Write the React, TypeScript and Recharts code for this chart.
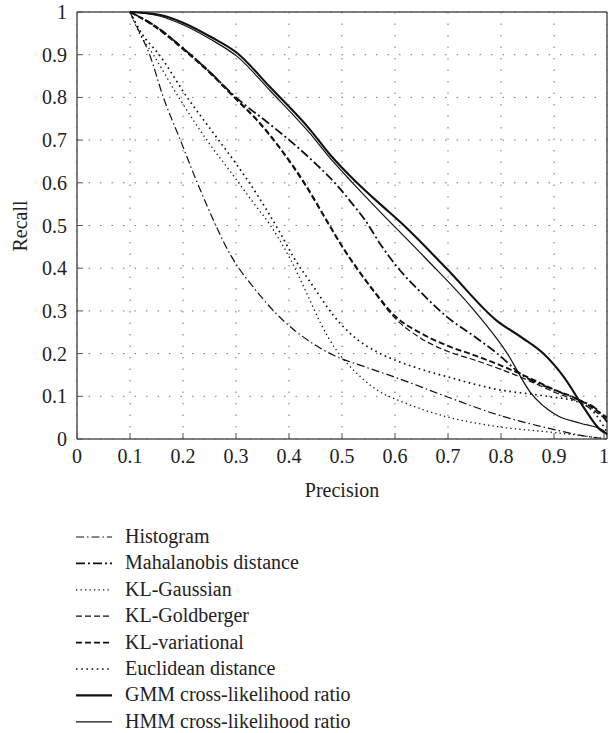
import React from "react";
import { LineChart, Line, XAxis, YAxis, CartesianGrid, ReferenceLine } from "recharts";

// Precision (x) / Recall (y) pairs
const histogram: number[][] = [
  [0.1, 1], [0.115, 0.96], [0.137, 0.9], [0.163, 0.8], [0.195, 0.7], [0.227, 0.6], [0.262, 0.5],
  [0.28, 0.453], [0.3, 0.41], [0.33, 0.36], [0.371, 0.3], [0.409, 0.256], [0.447, 0.222], [0.484, 0.196],
  [0.541, 0.17], [0.597, 0.146], [0.698, 0.099], [0.793, 0.057], [0.887, 0.026], [0.968, 0.005], [1, 0],
];
const mahalanobis: number[][] = [
  [0.1, 1], [0.15, 0.965], [0.2, 0.915], [0.25, 0.86], [0.3, 0.8], [0.365, 0.736], [0.41, 0.69],
  [0.45, 0.645], [0.49, 0.595], [0.52, 0.55], [0.545, 0.51], [0.573, 0.455], [0.604, 0.403],
  [0.65, 0.342], [0.698, 0.286], [0.75, 0.24], [0.793, 0.2], [0.84, 0.15], [0.9, 0.115],
  [0.95, 0.09], [0.98, 0.07], [1, 0.04],
];
const klGaussian: number[][] = [
  [0.1, 1], [0.118, 0.95], [0.144, 0.9], [0.192, 0.8], [0.245, 0.7], [0.298, 0.612], [0.33, 0.558],
  [0.365, 0.5], [0.403, 0.42], [0.434, 0.34], [0.46, 0.27], [0.49, 0.207],
  [0.509, 0.178], [0.54, 0.14], [0.572, 0.11], [0.604, 0.092], [0.65, 0.07], [0.698, 0.052],
  [0.793, 0.029], [0.893, 0.016], [0.95, 0.008], [1, 0],
];
const klGoldberger: number[][] = [
  [0.1, 1], [0.15, 0.962], [0.2, 0.912], [0.25, 0.857], [0.3, 0.795], [0.34, 0.745], [0.384, 0.678],
  [0.43, 0.595], [0.472, 0.508], [0.5, 0.45], [0.53, 0.395], [0.56, 0.345], [0.6, 0.283],
  [0.65, 0.235], [0.7, 0.205], [0.75, 0.185], [0.8, 0.163], [0.85, 0.138], [0.9, 0.11],
  [0.95, 0.085], [1, 0.045],
];
const klVariational: number[][] = [
  [0.1, 1], [0.15, 0.965], [0.2, 0.915], [0.25, 0.86], [0.3, 0.797], [0.34, 0.747], [0.384, 0.68],
  [0.43, 0.598], [0.472, 0.51], [0.5, 0.452], [0.53, 0.397], [0.56, 0.347], [0.6, 0.288],
  [0.65, 0.247], [0.7, 0.218], [0.75, 0.196], [0.8, 0.172], [0.85, 0.145], [0.9, 0.116],
  [0.95, 0.09], [1, 0.05],
];
const euclidean: number[][] = [
  [0.1, 1], [0.122, 0.95], [0.155, 0.9], [0.208, 0.8], [0.26, 0.712], [0.3, 0.645], [0.34, 0.572],
  [0.38, 0.49], [0.409, 0.425], [0.447, 0.355], [0.484, 0.289], [0.522, 0.24], [0.572, 0.2],
  [0.604, 0.183], [0.65, 0.163], [0.698, 0.146], [0.793, 0.116], [0.887, 0.1], [0.95, 0.085],
  [0.98, 0.055], [1, 0.015],
];
const gmm: number[][] = [
  [0.1, 1], [0.157, 0.993], [0.2, 0.975], [0.252, 0.942], [0.302, 0.904], [0.365, 0.823],
  [0.44, 0.724], [0.478, 0.665], [0.52, 0.61], [0.572, 0.55], [0.61, 0.508], [0.699, 0.397],
  [0.793, 0.276], [0.84, 0.237], [0.88, 0.2], [0.918, 0.146], [0.955, 0.076], [0.987, 0.022], [1, 0.012],
];
const hmm: number[][] = [
  [0.1, 1], [0.157, 0.99], [0.2, 0.97], [0.252, 0.936], [0.302, 0.896], [0.365, 0.815],
  [0.44, 0.715], [0.478, 0.657], [0.52, 0.6], [0.572, 0.532], [0.654, 0.428], [0.748, 0.303],
  [0.812, 0.2], [0.855, 0.11], [0.906, 0.055], [0.95, 0.037], [0.993, 0.02], [1, 0.01],
];

const axisTicks = [0, 0.1, 0.2, 0.3, 0.4, 0.5, 0.6, 0.7, 0.8, 0.9, 1];
const tickLabels = ["0", "0.1", "0.2", "0.3", "0.4", "0.5", "0.6", "0.7", "0.8", "0.9", "1"];

const seriesNames = [
  "Histogram",
  "Mahalanobis distance",
  "KL-Gaussian",
  "KL-Goldberger",
  "KL-variational",
  "Euclidean distance",
  "GMM cross-likelihood ratio",
  "HMM cross-likelihood ratio",
];
const seriesData = [histogram, mahalanobis, klGaussian, klGoldberger, klVariational, euclidean, gmm, hmm];

const styles = [
  { dash: "8 3 1.5 3", width: 1.2 },
  { dash: "9 3 2 3", width: 1.8 },
  { dash: "1.3 3.2", width: 1.3 },
  { dash: "6 3", width: 1.2 },
  { dash: "6 3", width: 1.9 },
  { dash: "1.6 3.6", width: 1.7 },
  { dash: undefined, width: 2.1 },
  { dash: undefined, width: 1.2 },
];

const FONT = "Liberation Serif";
const textStyle: React.CSSProperties = { fontFamily: "'Liberation Serif', 'Times New Roman', 'DejaVu Serif', serif", fontSize: 20 };
const INK = "#111";
const AXIS = "#555";

const toPoints = (arr: number[][]) => arr.map(([x, y]) => ({ x, y }));

const labelFor = (v: number) => {
  const i = axisTicks.findIndex((t) => Math.abs(t - v) < 1e-9);
  return i >= 0 ? tickLabels[i] : String(v);
};

const XTick = (props: any) => {
  const { x, y, payload } = props;
  return (
    <g>
      <line x1={x} x2={x} y1={y} y2={y - 6} stroke={AXIS} strokeWidth={1} />
      <text x={x} y={y + 24} textAnchor="middle" style={textStyle} fill="#222">
        {labelFor(payload.value)}
      </text>
    </g>
  );
};

const YTick = (props: any) => {
  const { x, y, payload } = props;
  return (
    <g>
      <line x1={x} x2={x + 6} y1={y} y2={y} stroke={AXIS} strokeWidth={1} />
      <text x={x - 10} y={y + 7} textAnchor="end" style={textStyle} fill="#222">
        {labelFor(payload.value)}
      </text>
    </g>
  );
};

const LegendBlock = () => (
  <svg width={608} height={233} style={{ position: "absolute", left: 0, top: 500 }}>
    {seriesNames.map((name, i) => {
      const base = 43 + 26.4 * i;
      return (
        <g key={name}>
          <line
            x1={76}
            x2={112}
            y1={base - 6}
            y2={base - 6}
            stroke={INK}
            strokeWidth={styles[i].width}
            strokeDasharray={styles[i].dash}
          />
          <text x={125} y={base} style={textStyle} fill="#222">
            {name}
          </text>
        </g>
      );
    })}
  </svg>
);

export default function App() {
  return (
    <div style={{ position: "absolute", left: 0, top: 0, width: 608, height: 733, background: "#fff", fontFamily: FONT }}>
      <LineChart width={608} height={500} margin={{ top: 12, right: 1, left: 0, bottom: 0 }}>
        <CartesianGrid stroke="#777" strokeDasharray="1.5 10" strokeWidth={1} />
        <XAxis
          dataKey="x"
          type="number"
          domain={[0, 1]}
          ticks={axisTicks}
          height={61}
          tickSize={0}
          tickMargin={0}
          tickLine={false}
          tick={<XTick />}
          axisLine={{ stroke: AXIS, strokeWidth: 1.5 }}
          label={{
            content: (p: any) => {
              const vb = p.viewBox || {};
              return (
                <text x={vb.x + vb.width / 2} y={497} textAnchor="middle" style={textStyle} fill="#222">
                  Precision
                </text>
              );
            },
          }}
        />
        <YAxis
          type="number"
          domain={[0, 1]}
          ticks={axisTicks}
          width={77}
          tickSize={0}
          tickMargin={0}
          tickLine={false}
          tick={<YTick />}
          axisLine={{ stroke: AXIS, strokeWidth: 1.5 }}
          label={{
            content: () => (
              <text transform="translate(27,226) rotate(-90)" textAnchor="middle" style={textStyle} fill="#222">
                Recall
              </text>
            ),
          }}
        />
        <ReferenceLine y={1} stroke={AXIS} strokeWidth={1.5} />
        <ReferenceLine x={1} stroke={AXIS} strokeWidth={1.5} />
        {seriesData.map((d, i) => (
          <Line
            key={seriesNames[i]}
            name={seriesNames[i]}
            data={toPoints(d)}
            dataKey="y"
            type="monotone"
            stroke={INK}
            strokeWidth={styles[i].width}
            strokeDasharray={styles[i].dash}
            dot={false}
            activeDot={false}
            isAnimationActive={false}
          />
        ))}
      </LineChart>
      <LegendBlock />
    </div>
  );
}
